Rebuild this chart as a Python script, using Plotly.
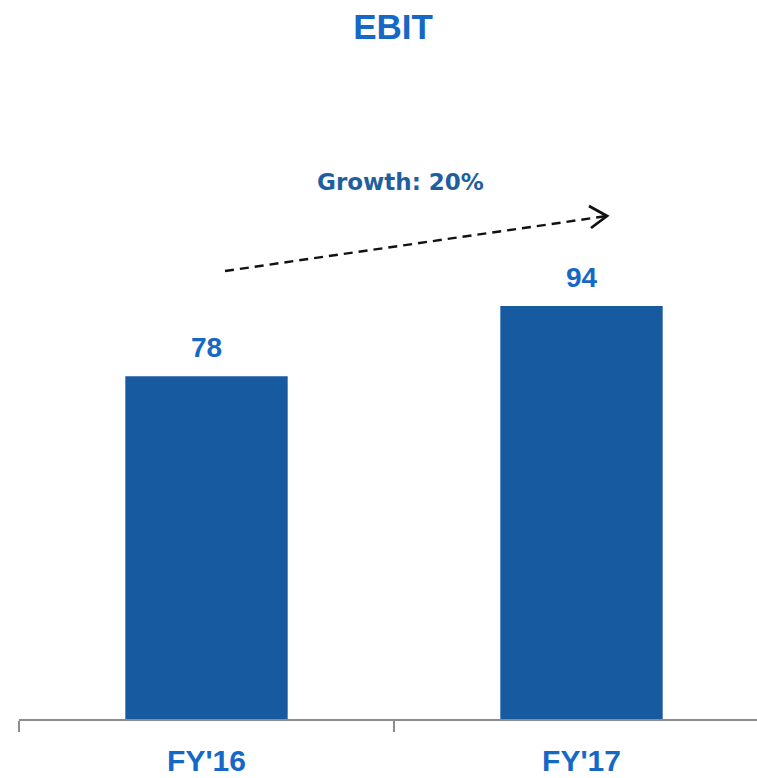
import plotly.graph_objects as go

categories = ["FY'16", "FY'17"]
ebit = [78, 94]
growth_label = "Growth: 20%"
title = "EBIT"

W, H = 757, 778
ML, MR, MT, MB = 19, 0, 60, 59
Y_MAX = 150.0
X_RANGE = [-0.5, 1.468]

bar_color = "#175aa0"
text_blue = "#1668c6"

# pixel scale helpers (for the decorative arrow)
px_per_x = (W - ML - MR) / (X_RANGE[1] - X_RANGE[0])
px_per_y = (H - MT - MB) / Y_MAX

def to_data(px, py):
    return (X_RANGE[0] + (px - ML) / px_per_x, (H - MB - py) / px_per_y)

fig = go.Figure()
fig.add_trace(go.Bar(x=categories, y=ebit, width=0.433, marker_color=bar_color,
                     marker_line_width=0, hoverinfo="skip"))

# growth arrow (dashed)
x0, y0 = to_data(225, 271)
x1, y1 = to_data(607, 216)
fig.add_trace(go.Scatter(x=[x0, x1], y=[y0, y1], mode="lines", xaxis="x2",
                         line=dict(color="#111111", width=2.4, dash="9px,6px"),
                         hoverinfo="skip"))
ax1, ay1 = to_data(589, 206)
ax2, ay2 = to_data(591, 228)
fig.add_trace(go.Scatter(x=[ax1, x1, ax2], y=[ay1, y1, ay2], mode="lines", xaxis="x2",
                         line=dict(color="#111111", width=2.8), hoverinfo="skip"))

for c, v in zip(categories, ebit):
    fig.add_annotation(x=c, y=v, text=f"<b>{v}</b>", showarrow=False, yanchor="bottom",
                       yshift=11, font=dict(family="Liberation Sans", size=28, color=text_blue))

gx, gy = to_data(400, 182)
fig.add_annotation(x=gx, y=gy, xref="x2", text=f"<b>{growth_label}</b>", showarrow=False,
                   font=dict(family="DejaVu Sans", size=23, color="#1f5fa0"))

fig.update_layout(
    width=W, height=H, margin=dict(l=ML, r=MR, t=MT, b=MB, autoexpand=False),
    plot_bgcolor="white", paper_bgcolor="white", showlegend=False,
    title=dict(text=f"<b>{title}</b>", x=393 / W, xanchor="center", y=1 - 27 / H, yanchor="middle",
               font=dict(family="Liberation Sans", size=35, color="#1668c6")),
    xaxis=dict(type="category", range=X_RANGE, showline=True, linecolor="#8c8c8c", linewidth=1.5,
               ticks="outside", tickson="boundaries", ticklen=11, tickcolor="#8c8c8c", tickwidth=1.5,
               showgrid=False, zeroline=False, ticklabelstandoff=14, automargin=False,
               tickfont=dict(family="Liberation Sans", size=30, color=text_blue),
               tickprefix="<b>", ticksuffix="</b>"),
    xaxis2=dict(range=X_RANGE, overlaying="x", visible=False),
    yaxis=dict(range=[0, Y_MAX], visible=False, showgrid=False, zeroline=False, automargin=False),
)

fig.write_html("out.html", config={"displayModeBar": False},
               post_script="document.body.style.margin='0';document.body.style.overflow='hidden';")
